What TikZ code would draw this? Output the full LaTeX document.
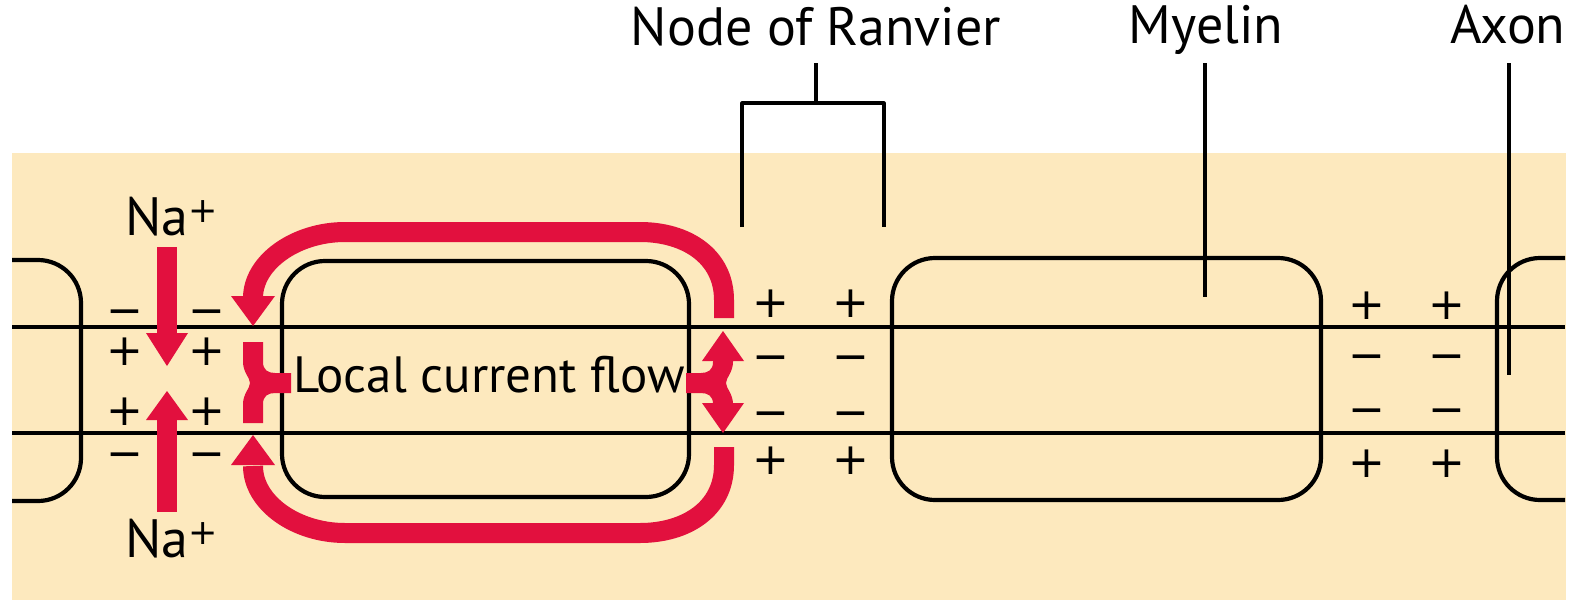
\documentclass[tikz,border=0pt]{standalone}
\usepackage{fontspec}
\setmainfont{PT Sans}
\newfontfamily\symfont{DejaVu Sans}
\definecolor{beige}{RGB}{253,233,190}
\definecolor{nred}{RGB}{226,16,62}
\newcommand{\supplus}{\raisebox{13pt}{\symfont\fontsize{35}{35}\selectfont +}}
\begin{document}
\begin{tikzpicture}[x=1pt,y=-1pt,line join=round]
\tikzset{
  sheath/.style={draw=black,line width=4.2pt,rounded corners=43pt},
  lead/.style={draw=black,line width=3.2pt},
  cur/.style={draw=nred,line width=20pt},
  lbl/.style={inner sep=0pt,font=\fontsize{54}{60}\selectfont},
  chg/.style={inner sep=0pt,font=\symfont\fontsize{44}{44}\selectfont,text height=31.5pt,text depth=0pt}
}
\useasboundingbox (0,0) rectangle (1579,605);
\fill[white] (0,0) rectangle (1579,605);
\fill[beige] (12,153) rectangle (1566,600);
% myelin sheaths
\draw[sheath] (12,260) -- (81,260) -- (81,501) -- (12,501);
\draw[sheath] (282,261) rectangle (689,497);
\draw[sheath] (892,258) rectangle (1321,500);
\draw[sheath] (1565,258) -- (1497,258) -- (1497,500) -- (1565,500);
% axon membrane
\draw[line width=4.6pt] (12,327) -- (1565,327);
\draw[line width=3.8pt] (12,433) -- (1565,433);
% labels
\node[lbl,anchor=base] (nor) at (816,45) {Node of Ranvier};
\node[lbl,anchor=base] (mye) at (1206,43) {Myelin};
\node[lbl,anchor=base] (axo) at (1508,43) {Axon};
\node[lbl,anchor=base west,font=\fontsize{51}{60}\selectfont] (lcf) at (293,392) {Local current flow};
\node[lbl,anchor=base west] (na1) at (125,235) {Na\supplus};
\node[lbl,anchor=base west] (na2) at (125,557) {Na\supplus};
% leader lines
\coordinate (b1) at (742,227); \coordinate (b2) at (742,103);
\coordinate (b3) at (884,103); \coordinate (b4) at (884,227);
\coordinate (bs) at (816,63);  \coordinate (bm) at (816,103);
\draw[lead] (b1) -- (b2) -- (b3) -- (b4);
\draw[lead] (bs) -- (bm);
\coordinate (m1) at (1205,63); \coordinate (m2) at (1205,297);
\draw[lead] (m1) -- (m2);
\coordinate (a1) at (1509,63); \coordinate (a2) at (1509,375);
\draw[lead] (a1) -- (a2);
% Na+ arrows
\fill[nred] (157,247) rectangle (177,334);
\fill[nred] (146,333) -- (188,333) -- (167,366) -- cycle;
\fill[nred] (157,512) rectangle (177,419);
\fill[nred] (146,420) -- (188,420) -- (167,391) -- cycle;
% local current loops
\draw[cur] (724,318) -- (724,300) .. controls (724,256) and (686,232) .. (640,232) -- (345,232) .. controls (296,232) and (253,262) .. (253,298);
\fill[nred] (231,296) -- (275,296) -- (253,326) -- cycle;
\draw[cur] (724,447) -- (724,465) .. controls (724,509) and (686,533) .. (640,533) -- (345,533) .. controls (296,533) and (253,503) .. (253,466);
\fill[nred] (231,465) -- (275,465) -- (253,435) -- cycle;
% braces
\fill[nred] (243,342) -- (263,342) -- (263,362) .. controls (263,370) and (268,373) .. (275,373) -- (291,373) -- (291,393) -- (275,393) .. controls (268,393) and (263,396) .. (263,404) -- (263,423) -- (243,423) -- (243,404) .. controls (243,394) and (250,388) .. (250,383) .. controls (250,378) and (243,372) .. (243,362) -- cycle;
\fill[nred] (733,359) -- (713,359) -- (713,362) .. controls (713,370) and (708,373) .. (701,373) -- (686,373) -- (686,393) -- (701,393) .. controls (708,393) and (713,396) .. (713,404) -- (733,404) .. controls (733,394) and (726,388) .. (726,383) .. controls (726,378) and (733,372) .. (733,362) -- cycle;
\fill[nred] (702,361) -- (744,361) -- (723,331) -- cycle;
\fill[nred] (702,403) -- (744,403) -- (723,433) -- cycle;
% charges
\foreach \n/\x/\y/\s in {
  l1/125/310/−, l2/207/310/−, l3/125/350/+, l4/207/350/+,
  l5/125/410/+, l6/207/410/+, l7/125/453/−, l8/207/453/−,
  m1/771/302/+, m2/851/302/+, m3/771/356/−, m4/851/356/−,
  m5/771/412/−, m6/851/412/−, m7/771/459/+, m8/851/459/+,
  r1/1367/304/+, r2/1447/304/+, r3/1367/355/−, r4/1447/355/−,
  r5/1367/409/−, r6/1447/409/−, r7/1367/462/+, r8/1447/462/+}
  \node[chg] (c\n) at (\x,\y) {\s};
\end{tikzpicture}
\end{document}
